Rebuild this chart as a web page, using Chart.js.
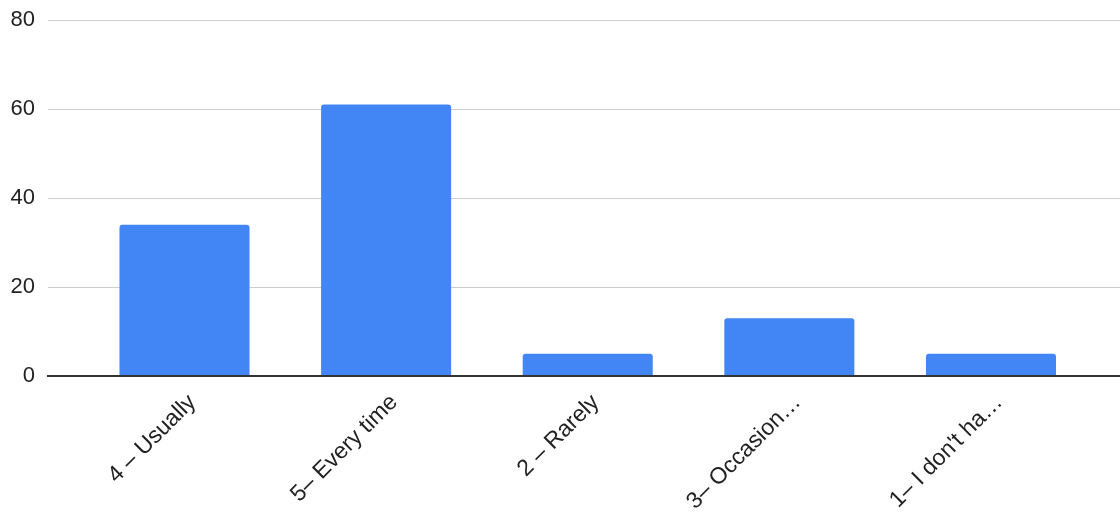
<!DOCTYPE html>
<html>
<head>
<meta charset="utf-8">
<script src="https://cdn.jsdelivr.net/npm/chart.js@4/dist/chart.umd.min.js"></script>
<style>
  html, body { margin: 0; padding: 0; background: #fff; }
  #wrap { width: 1120px; height: 512px; position: relative; }
</style>
</head>
<body>
<div id="wrap"><canvas id="c"></canvas></div>
<script>
const categories = ["4 – Usually", "5– Every time", "2 – Rarely", "3– Occasion…", "1– I don't ha…"];
const counts = [34, 61, 5, 13, 5];
const yTicks = [0, 20, 40, 60, 80];

const FONT = "'Liberation Sans', Arial, sans-serif";

new Chart(document.getElementById('c'), {
  type: 'bar',
  data: {
    datasets: [{
      data: categories.map((c, i) => ({ x: i, y: counts[i] })),
      backgroundColor: '#4285F4',
      borderWidth: 0,
      borderRadius: { topLeft: 3, topRight: 3, bottomLeft: 0, bottomRight: 0 },
      borderSkipped: 'bottom',
      categoryPercentage: 1,
      barPercentage: 0.645
    }]
  },
  options: {
    responsive: true,
    maintainAspectRatio: false,
    animation: false,
    layout: { padding: { top: 20, left: 10, right: 0, bottom: 0 } },
    plugins: { legend: { display: false }, tooltip: { enabled: false } },
    scales: {
      x: {
        type: 'linear',
        offset: false,
        min: -0.677,
        max: 4.64,
        afterBuildTicks: (scale) => { scale.ticks = categories.map((c, i) => ({ value: i })); },
        afterFit: (scale) => { scale.height = 136; },
        grid: { display: false, drawTicks: false, offset: false },
        border: { display: true, color: '#333', width: 2 },
        ticks: {
          autoSkip: false,
          minRotation: 45,
          maxRotation: 45,
          padding: 13,
          labelOffset: 8,
          color: '#222',
          font: { family: FONT, size: 23 },
          callback: (v) => categories[v]
        }
      },
      y: {
        min: yTicks[0],
        max: yTicks[yTicks.length - 1],
        afterBuildTicks: (scale) => { scale.ticks = yTicks.map(v => ({ value: v })); },
        afterFit: (scale) => { scale.width = 38; scale.paddingTop = 0; scale.paddingBottom = 0; },
        grid: {
          color: (ctx) => (ctx.tick && ctx.tick.value === 0) ? '#333' : '#ccc',
          lineWidth: (ctx) => (ctx.tick && ctx.tick.value === 0) ? 2 : 1,
          drawTicks: false
        },
        border: { display: false },
        ticks: {
          padding: 13,
          color: '#222',
          font: { family: FONT, size: 22 }
        }
      }
    }
  }
});
</script>
</body>
</html>
